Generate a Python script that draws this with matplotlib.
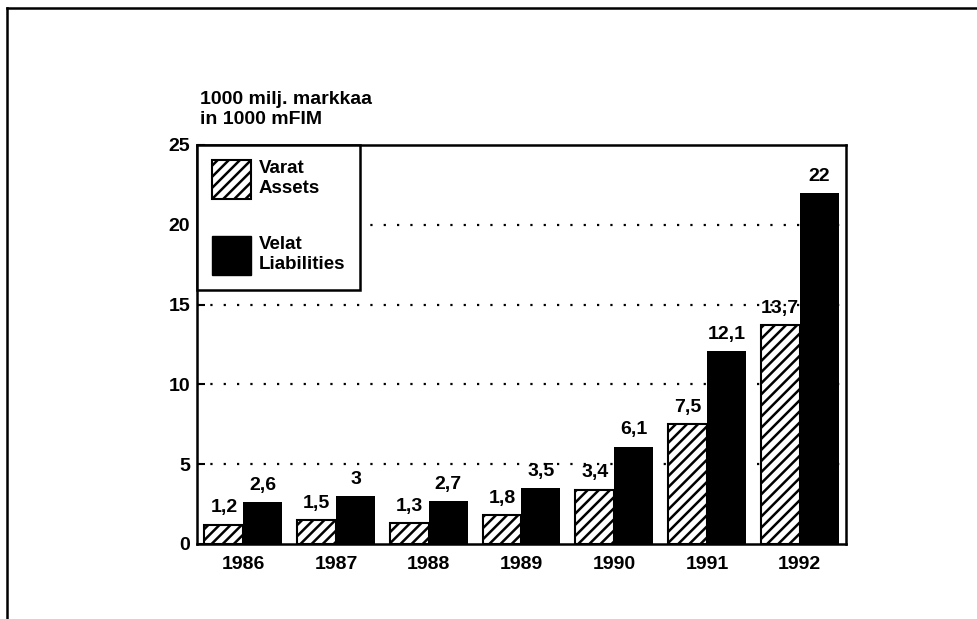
import matplotlib.pyplot as plt
import numpy as np
from matplotlib.patches import Patch
from matplotlib.lines import Line2D

years = ['1986', '1987', '1988', '1989', '1990', '1991', '1992']
assets = [1.2, 1.5, 1.3, 1.8, 3.4, 7.5, 13.7]
liabilities = [2.6, 3.0, 2.7, 3.5, 6.1, 12.1, 22.0]
yticks = [0, 5, 10, 15, 20, 25]


def fi_label(v):
    # Finnish decimal comma, whole numbers without decimals
    if float(v).is_integer():
        return str(int(v))
    return ('%.1f' % v).replace('.', ',')


plt.rcParams['font.family'] = ['Liberation Sans', 'DejaVu Sans']
plt.rcParams['font.weight'] = 'bold'
plt.rcParams['font.size'] = 14
plt.rcParams['hatch.linewidth'] = 1.8

fig = plt.figure(figsize=(9.77, 6.19), dpi=100)
ax = fig.add_axes([0.2016, 0.1212, 0.6643, 0.6446])

x = np.arange(len(years))
w = 0.42
b1 = ax.bar(x - w / 2, assets, w, facecolor='white', edgecolor='black',
            hatch='///', linewidth=1.5, zorder=3)
b2 = ax.bar(x + w / 2, liabilities, w, color='black', zorder=3)

ax.bar_label(b1, labels=[fi_label(v) for v in assets], padding=6,
             fontsize=14, fontweight='bold', zorder=4)
ax.bar_label(b2, labels=[fi_label(v) for v in liabilities], padding=6,
             fontsize=14, fontweight='bold', zorder=4)

ax.set_xlim(-0.5, len(years) - 0.5)
ax.set_ylim(0, 25)
ax.set_xticks(x)
ax.set_xticklabels(years)
ax.set_yticks(yticks)
ax.tick_params(axis='x', length=0, pad=9, labelsize=14)
ax.tick_params(axis='y', direction='in', length=6, width=1.5, pad=5, labelsize=14)
for s in ax.spines.values():
    s.set_linewidth(1.8)

for yv in yticks[1:-1]:
    ax.axhline(yv, color='black', linestyle=(0, (1, 5)), linewidth=1.6, zorder=1)

handles = [Patch(facecolor='white', edgecolor='black', hatch='///', linewidth=1.5),
           Patch(facecolor='black', edgecolor='black')]
leg = ax.legend(handles, ['Varat\nAssets', 'Velat\nLiabilities'],
                loc='upper left', bbox_to_anchor=(0, 1), borderaxespad=0,
                fancybox=False, framealpha=1, edgecolor='black',
                handlelength=2.1, handleheight=2.8, labelspacing=2.0,
                handletextpad=0.4, borderpad=0.8, fontsize=13.5)
leg.get_frame().set_linewidth(1.8)
leg.set_zorder(5)

fig.text(200 / 977, 1 - 128 / 619, '1000 milj. markkaa\nin 1000 mFIM',
         ha='left', va='bottom', fontsize=14, fontweight='bold', linespacing=1.25)

# outer frame (left and top edges)
fig.add_artist(Line2D([7 / 977, 7 / 977], [0, 1 - 8 / 619], color='black',
                      linewidth=1.8, transform=fig.transFigure))
fig.add_artist(Line2D([7 / 977, 1], [1 - 8 / 619, 1 - 8 / 619], color='black',
                      linewidth=1.8, transform=fig.transFigure))

fig.savefig('out.png', dpi=100)
